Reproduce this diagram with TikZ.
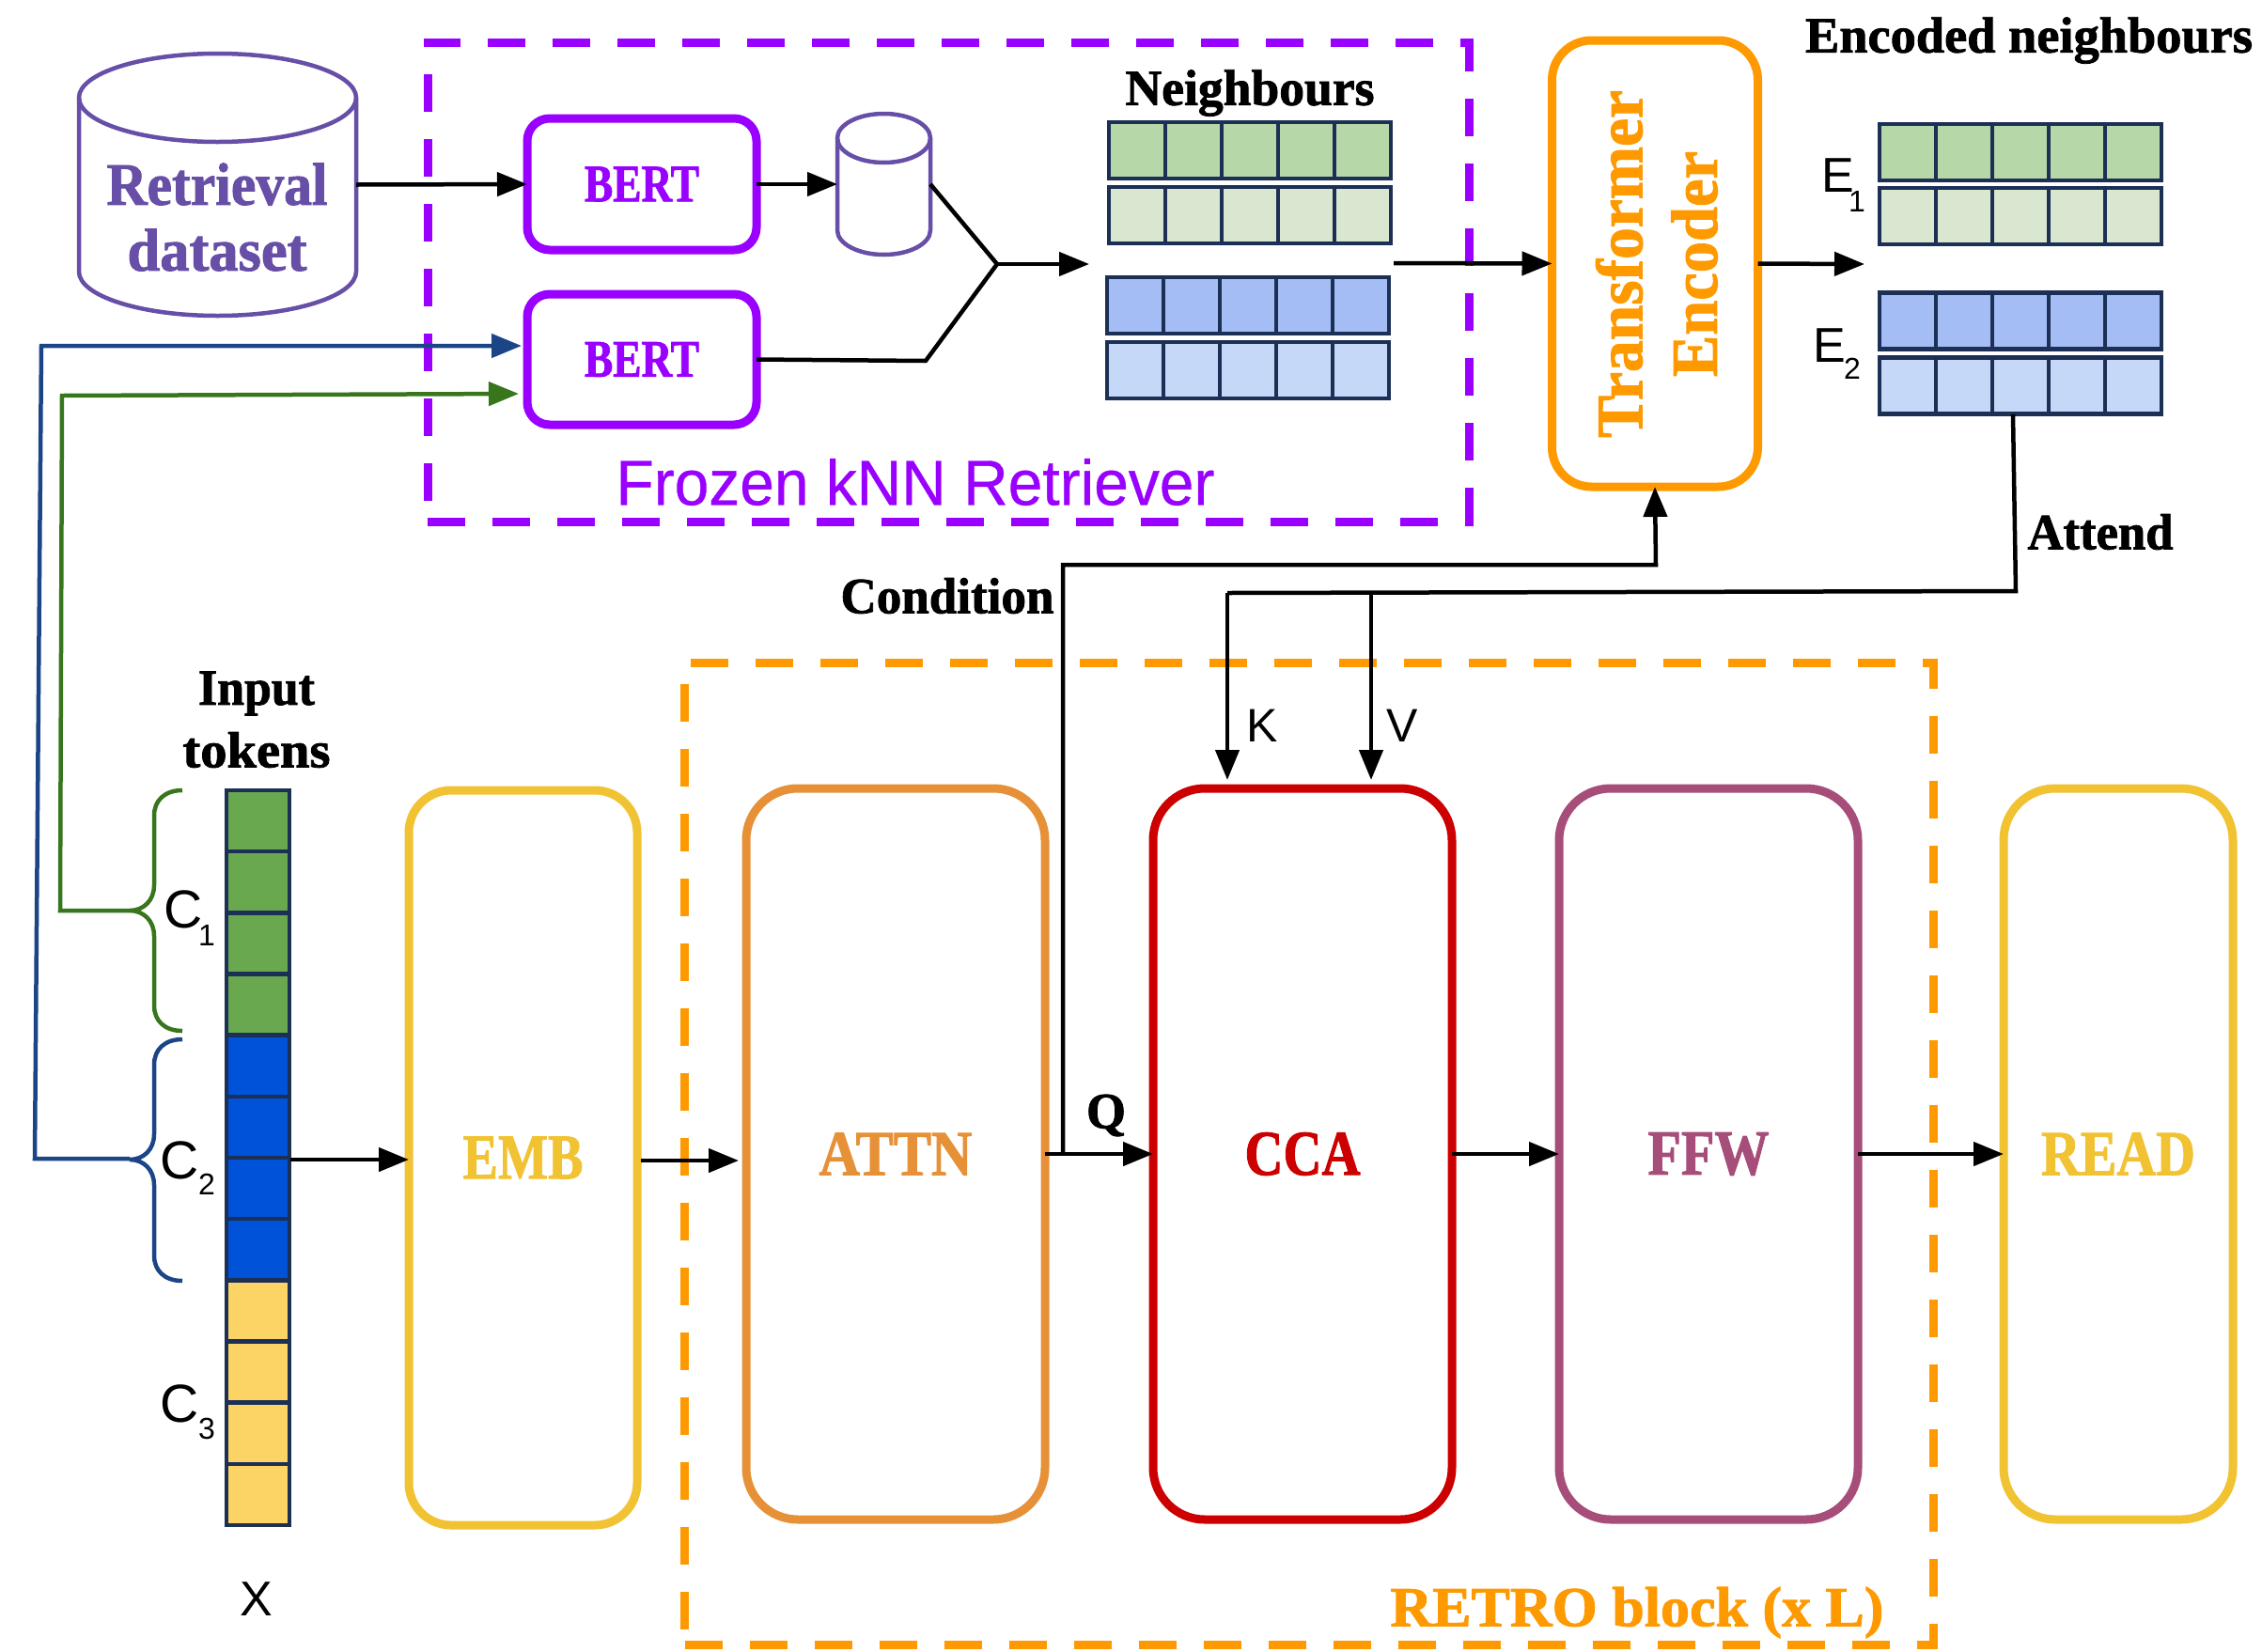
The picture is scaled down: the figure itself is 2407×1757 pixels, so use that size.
\documentclass[tikz,border=0pt]{standalone}
\usepackage{graphicx}
\usepackage{fontspec}
\setmainfont{Liberation Serif}
\newfontfamily\lsans{Liberation Sans}
\newfontfamily\lserif[BoldFont={Liberation Serif Bold},BoldFeatures={FakeBold=1.5}]{Liberation Serif}
\usetikzlibrary{arrows.meta,calc}
\definecolor{bertc}{HTML}{9900FF}
\definecolor{retc}{HTML}{674EA7}
\definecolor{navy}{HTML}{1C2F55}
\definecolor{orangec}{HTML}{FF9900}
\definecolor{embc}{HTML}{F1C232}
\definecolor{attnc}{HTML}{E69138}
\definecolor{ccac}{HTML}{CC0000}
\definecolor{ffwc}{HTML}{A64D79}
\definecolor{bluel}{HTML}{1C4587}
\definecolor{greenl}{HTML}{38761D}
\definecolor{gA}{HTML}{B6D7A8}
\definecolor{gB}{HTML}{D9E6D0}
\definecolor{bA}{HTML}{A4BDF4}
\definecolor{bB}{HTML}{C5D8F7}
\definecolor{tokg}{HTML}{6AA84F}
\definecolor{tokb}{HTML}{0052D9}
\definecolor{toky}{HTML}{FBD465}
\newcommand{\fitw}[2]{\resizebox{#1pt}{\height}{#2}}
\newcommand{\sz}[1]{\fontsize{#1}{#1}\selectfont}
\tikzset{
  box/.style={draw,rounded corners=#1,inner sep=0pt,outer sep=0pt,line width=9pt,fill=white,align=center},
  sertxt/.style={inner sep=0pt,outer sep=0pt,font={\lserif\bfseries\sz{#1}}},
  santxt/.style={inner sep=0pt,outer sep=0pt,font={\lsans\sz{#1}}},
  cellbox/.style={draw=navy,line width=4.5pt,inner sep=0pt,outer sep=0pt,minimum width=60pt,minimum height=60pt},
  tokbox/.style={draw=navy,line width=4.5pt,inner sep=0pt,outer sep=0pt,minimum width=67pt,minimum height=65.17pt},
  dashbox/.style={draw,inner sep=0pt,outer sep=0pt,line width=9pt,dash pattern=on 40pt off 29pt},
  arr/.style={line width=4.5pt,-{Triangle[length=32pt,width=25pt]}},
  plain/.style={line width=4.5pt},
  lane/.style={line width=4.5pt}
}
\begin{document}
\begin{tikzpicture}[x=1pt,y=-1pt]
\path[use as bounding box,fill=white] (0,0) rectangle (2407,1757);

% dashed groups
\node[dashbox,draw=bertc,minimum width=1108pt,minimum height=510pt] (frozen) at (1009,300) {};
\node[dashbox,draw=orangec,minimum width=1329pt,minimum height=1045pt] (retro) at (728.5+664.5,1227.5) {};

% retrieval dataset
\node[inner sep=0pt,outer sep=0pt,minimum width=295pt,minimum height=279pt] (ret) at (231.5,196.5) {};
\draw[retc,line width=4.5pt,fill=white] (84,104) arc[start angle=180,end angle=0,x radius=147.5pt,y radius=47pt]
  -- (379,289) arc[start angle=0,end angle=-180,x radius=147.5pt,y radius=47pt] -- cycle;
\draw[retc,line width=4.5pt] (84,104) arc[start angle=180,end angle=360,x radius=147.5pt,y radius=47pt];
\node[sertxt=64,text=retc] (rettxtA) at (231,196) {\fitw{235}{Retrieval}};
\node[sertxt=64,text=retc] (rettxtB) at (231,266) {\fitw{191}{dataset}};

% small cylinder
\node[inner sep=0pt,outer sep=0pt,minimum width=99pt,minimum height=150pt] (scyl) at (940.5,196) {};
\draw[retc,line width=4.5pt,fill=white] (891,147) arc[start angle=180,end angle=0,x radius=49.5pt,y radius=26pt]
  -- (990,245) arc[start angle=0,end angle=-180,x radius=49.5pt,y radius=26pt] -- cycle;
\draw[retc,line width=4.5pt] (891,147) arc[start angle=180,end angle=360,x radius=49.5pt,y radius=26pt];

% BERT
\node[box=24pt,draw=bertc,text=bertc,minimum width=244pt,minimum height=140pt,sertxt=56] (bertA) at (683,196) {\fitw{122}{BERT}};
\node[box=24pt,draw=bertc,text=bertc,minimum width=244pt,minimum height=139pt,sertxt=56] (bertB) at (683,382.5) {\fitw{122}{BERT}};

% neighbours grids
\node[sertxt=54] (nbrtitle) at (1330,99) {\fitw{265}{Neighbours}};
\foreach \i in {1,...,5}{
  \node[cellbox,fill=gA] (nA\i) at ({1180+30+(\i-1)*60},160) {};
  \node[cellbox,fill=gB] (nB\i) at ({1180+30+(\i-1)*60},229) {};
  \node[cellbox,fill=bA] (nC\i) at ({1178+30+(\i-1)*60},325) {};
  \node[cellbox,fill=bB] (nD\i) at ({1178+30+(\i-1)*60},394) {};
  \node[cellbox,fill=gA] (eA\i) at ({2000+30+(\i-1)*60},162) {};
  \node[cellbox,fill=gB] (eB\i) at ({2000+30+(\i-1)*60},230) {};
  \node[cellbox,fill=bA] (eC\i) at ({2000+30+(\i-1)*60},341.5) {};
  \node[cellbox,fill=bB] (eD\i) at ({2000+30+(\i-1)*60},410.5) {};
}

% transformer encoder
\node[box=42pt,draw=orangec,minimum width=219pt,minimum height=475pt] (te) at (1761,280.5) {};
\node[sertxt=70,text=orangec,rotate=90] (teA) at (1723,281) {\fitw{370}{Transformer}};
\node[sertxt=70,text=orangec,rotate=90] (teB) at (1803,281) {\fitw{240}{Encoder}};

% labels top right
\node[sertxt=54] (enc) at (2159,43) {\fitw{476}{Encoded neighbours}};
\node[santxt=52] (eone) at (1956,187) {E};
\node[santxt=32] (eonesub) at (1976,214) {1};
\node[santxt=52] (etwo) at (1947,368) {E};
\node[santxt=32] (etwosub) at (1971,392) {2};
\node[sertxt=54] (attend) at (2235,566) {\fitw{155}{Attend}};
\node[sertxt=54] (cond) at (1008,634) {\fitw{227}{Condition}};
\node[santxt=67,text=bertc,font={\lsans\sz{68}\addfontfeature{FakeBold=0.5}}] (frozentxt) at (974,513) {\fitw{637}{Frozen kNN Retriever}};

% tokens
\foreach \i/\c in {1/tokg,2/tokg,3/tokg,4/tokg,5/tokb,6/tokb,7/tokb,8/tokb,9/toky,10/toky,11/toky,12/toky}{
  \node[tokbox,fill=\c] (tok\i) at (274.5,{841+32.58+(\i-1)*65.17}) {};
}
\node[sertxt=54] (inA) at (273,738) {\fitw{124}{Input}};
\node[sertxt=54] (inB) at (273,798) {\fitw{157}{tokens}};
\node[santxt=57] (cone) at (195,968) {C};
\node[santxt=32] (conesub) at (220,995) {1};
\node[santxt=57] (ctwo) at (191,1235) {C};
\node[santxt=32] (ctwosub) at (220,1260) {2};
\node[santxt=57] (cthree) at (191,1494) {C};
\node[santxt=32] (cthreesub) at (220,1520) {3};
\node[santxt=52] (xlab) at (273,1702) {X};

% main blocks
\node[box=45pt,draw=embc,text=embc,minimum width=243pt,minimum height=782pt,sertxt=68] (emb) at (556.5,1232) {\fitw{128}{EMB}};
\node[box=55pt,draw=attnc,text=attnc,minimum width=318pt,minimum height=778pt,sertxt=68] (attn) at (953,1228) {\fitw{163}{ATTN}};
\node[box=55pt,draw=ccac,text=ccac,minimum width=318pt,minimum height=778pt,sertxt=68] (cca) at (1386,1228) {\fitw{123}{CCA}};
\node[box=55pt,draw=ffwc,text=ffwc,minimum width=318pt,minimum height=778pt,sertxt=68] (ffw) at (1818,1228) {\fitw{129}{FFW}};
\node[box=55pt,draw=embc,text=embc,minimum width=244pt,minimum height=778pt,sertxt=68] (read) at (2254,1228) {\fitw{164}{READ}};

\node[sertxt=54] (qlab) at (1177,1187) {Q};
\node[santxt=50] (klab) at (1343,772) {K};
\node[santxt=50] (vlab) at (1492,772) {V};
\node[sertxt=60,text=orangec] (retrotxt) at (1742,1716) {\fitw{525}{RETRO block (x L)}};

% connector helpers
\coordinate (merge) at (1061,281);
\coordinate (bendB) at (985,384);
\coordinate (nbrin) at (1159,281);
\coordinate (nbrout) at (1483,280);
\coordinate (encout) at (1984,281);
\coordinate (condstart) at (1131,1228);
\coordinate (condbend) at (1131,601);
\coordinate (condtop) at (1762,601);
\coordinate (attS) at (2142,441);
\coordinate (attB) at (2145,629);
\coordinate (attL) at (1306,631);
\coordinate (attM) at (1459,631);
\coordinate (kend) at (1306,830);
\coordinate (vend) at (1459,830);
\coordinate (tokout) at (309,1234);
\coordinate (blueA) at (138,1233);
\coordinate (blueB) at (37,1233);
\coordinate (blueC) at (44,368);
\coordinate (blueD) at (555,368);
\coordinate (greenA) at (138,969);
\coordinate (greenB) at (64,969);
\coordinate (greenC) at (66,421);
\coordinate (greenD) at (552,419);

% connectors
\draw[arr] (ret.east) -- (bertA.west);
\draw[arr] (bertA.east) -- (scyl.west);
\draw[plain,line join=round] (scyl.east) -- (merge);
\draw[plain,line join=round] (bertB.east) -- (bendB) -- (merge);
\draw[arr] (merge) -- (nbrin);
\draw[arr] (nbrout) -- (te.west);
\draw[arr] (te.east) -- (encout);
\draw[arr,line width=4.5pt] (condstart) -- (condbend) -- (condtop) -- (te.south);
\draw[plain] (attS) -- (attB) -- (attL);
\draw[arr] (attL) -- (kend);
\draw[arr] (attM) -- (vend);
\draw[arr] (tokout) -- (emb.west |- tokout);
\draw[arr] ($(emb.east)+(4,3)$) -- ($(attn.west)+(-8,7)$);
\draw[arr] (attn.east) -- (cca.west);
\draw[arr] (cca.east) -- (ffw.west);
\draw[arr] (ffw.east) -- (read.west);
\draw[lane,draw=bluel,-{Triangle[length=32pt,width=25pt]},line join=miter] (blueA) -- (blueB) -- (blueC) -- (blueD);
\draw[lane,draw=greenl,-{Triangle[length=32pt,width=25pt]},line join=miter] (greenA) -- (greenB) -- (greenC) -- (greenD);
% braces
\draw[lane,greenl] (194,841) .. controls (175,841) and (164,852) .. (164,868) -- (164,942)
  .. controls (164,958) and (153,969) .. (138,969) .. controls (153,969) and (164,980) .. (164,996)
  -- (164,1070) .. controls (164,1086) and (175,1097) .. (194,1097);
\draw[lane,bluel] (194,1106) .. controls (175,1106) and (164,1117) .. (164,1133) -- (164,1207)
  .. controls (164,1223) and (153,1234) .. (138,1234) .. controls (153,1234) and (164,1245) .. (164,1261)
  -- (164,1336) .. controls (164,1352) and (175,1363) .. (194,1363);
\end{tikzpicture}
\end{document}
